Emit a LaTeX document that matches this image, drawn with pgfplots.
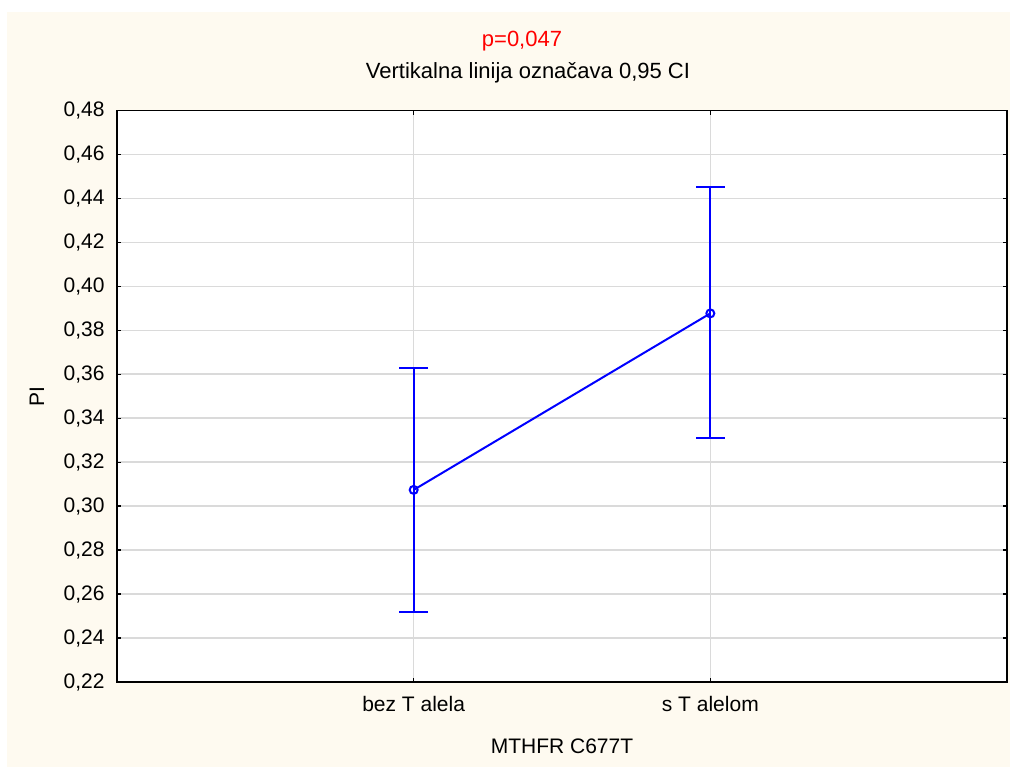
\documentclass[border=0pt]{standalone}
\usepackage{pgfplots}
\pgfplotsset{compat=1.18}
\usepackage{fontspec}
\setmainfont{Liberation Sans}
\definecolor{cream}{HTML}{FEFAF0}
\definecolor{gridgray}{HTML}{DADADA}
\begin{document}
\begin{tikzpicture}[x=1bp,y=1bp]
\fill[white] (0,0) rectangle (1010,-767);
\fill[cream] (7,-12) rectangle (1010,-767);
\begin{axis}[
  at={(117bp,-682bp)}, anchor=south west,
  scale only axis, width=890bp, height=571.5bp,
  xmin=0, xmax=3, ymin=0.22, ymax=0.48,
  xtick={1,2}, xticklabels={bez T alela, s T alelom},
  ytick={0.22,0.24,0.26,0.28,0.30,0.32,0.34,0.36,0.38,0.40,0.42,0.44,0.46,0.48},
  yticklabel style={xshift=-9bp, /pgf/number format/fixed, /pgf/number format/fixed zerofill, /pgf/number format/precision=2, /pgf/number format/use comma, /pgf/number format/assume math mode=true},
  grid=major, major grid style={gridgray, line width=1.6bp},
  axis line style={black, line width=1.6bp},
  tick align=inside, major tick length=4bp, tick style={black, line width=1.4bp},
  axis background/.style={fill=white},
  tick label style={font=\fontsize{21bp}{25bp}\selectfont},
  xticklabel style={yshift=-11bp},
]
% confidence intervals (vertical lines)
\addplot[blue, line width=2bp] coordinates {(1,0.2518) (1,0.3630)};
\addplot[blue, line width=2bp] coordinates {(2,0.3309) (2,0.4452)};
% caps
\addplot[blue, only marks, mark=-, mark size=14.5bp, mark options={line width=2bp}]
  coordinates {(1,0.2518) (1,0.3630) (2,0.3309) (2,0.4452)};
% means
\addplot[blue, line width=2bp, mark=o, mark size=4bp, mark options={line width=2bp}]
  coordinates {(1,0.3074) (2,0.3877)};
\end{axis}
\node[red, font=\fontsize{22bp}{26bp}\selectfont] at (522,-41) {p=0,047};
\node[font=\fontsize{22bp}{26bp}\selectfont] at (528,-73) {Vertikalna linija označava 0,95 CI};
\node[font=\fontsize{21bp}{25bp}\selectfont, rotate=90] at (37,-397) {PI};
\node[font=\fontsize{21bp}{25bp}\selectfont] at (562,-746) {MTHFR C677T};
\end{tikzpicture}
\end{document}
